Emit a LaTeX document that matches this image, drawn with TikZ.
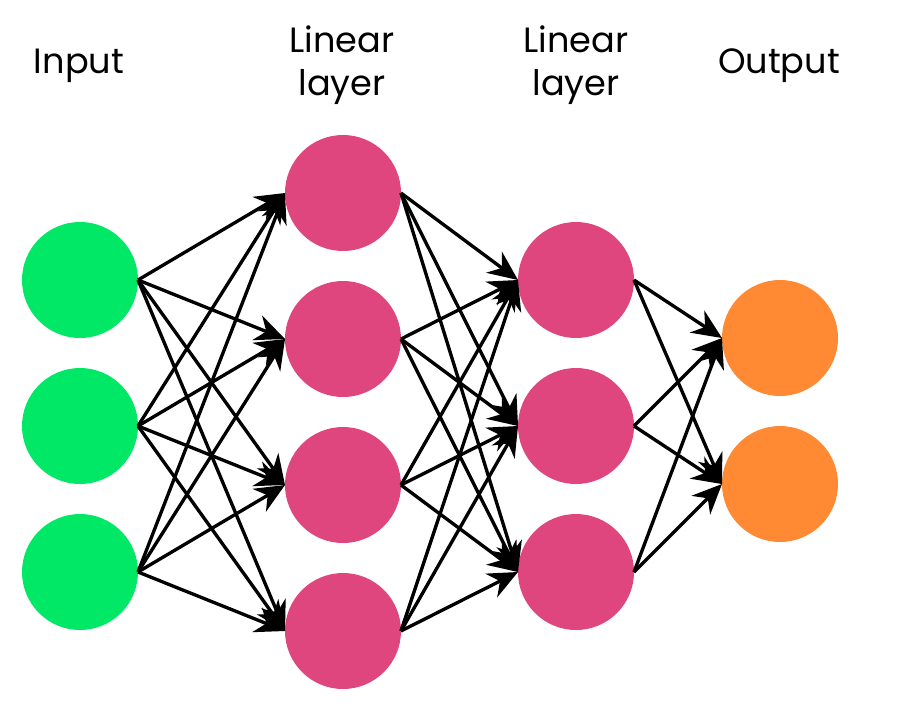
\documentclass[tikz,border=0pt]{standalone}
\usepackage{fontspec}
\setmainfont{Poppins}
\usetikzlibrary{arrows.meta}
\definecolor{ingreen}{HTML}{00E865}
\definecolor{linpink}{HTML}{E0467E}
\definecolor{outorange}{HTML}{FF8A33}

\begin{document}
\begin{tikzpicture}[x=0.02cm, y=-0.02cm, line width=1.9pt,
	neuron/.style={circle, minimum size=2.32cm, inner sep=0pt, outer sep=0pt},
	head/.style={align=center, font=\fontsize{20}{24.5}\selectfont},
	conn/.style={-{Stealth[length=17pt, width=15pt]}}]
	\useasboundingbox (0,0) rectangle (898,707);
	% titles
	\node[head] (tin) at (79,66) {Input};
	\node[head] (tla) at (342,65) {Linear\\layer};
	\node[head] (tlb) at (576,65) {Linear\\layer};
	\node[head] (tout) at (779,66) {Output};
	% input
	\node[neuron, fill=ingreen] (in1) at (80,280) {};
	\node[neuron, fill=ingreen] (in2) at (80,426) {};
	\node[neuron, fill=ingreen] (in3) at (80,572) {};
	% first linear layer
	\node[neuron, fill=linpink] (la1) at (343,193) {};
	\node[neuron, fill=linpink] (la2) at (343,339) {};
	\node[neuron, fill=linpink] (la3) at (343,485) {};
	\node[neuron, fill=linpink] (la4) at (343,631) {};
	% second linear layer
	\node[neuron, fill=linpink] (lb1) at (576,280) {};
	\node[neuron, fill=linpink] (lb2) at (576,426) {};
	\node[neuron, fill=linpink] (lb3) at (576,572) {};
	% output
	\node[neuron, fill=outorange] (out1) at (780,338) {};
	\node[neuron, fill=outorange] (out2) at (780,484) {};
	% connections
	\foreach \s in {1,2,3} \foreach \t in {1,...,4} \draw[conn] (in\s.east) -- (la\t.west);
	\foreach \s in {1,...,4} \foreach \t in {1,2,3} \draw[conn] (la\s.east) -- (lb\t.west);
	\foreach \s in {1,2,3} \foreach \t in {1,2} \draw[conn] (lb\s.east) -- (out\t.west);
\end{tikzpicture}
\end{document}
